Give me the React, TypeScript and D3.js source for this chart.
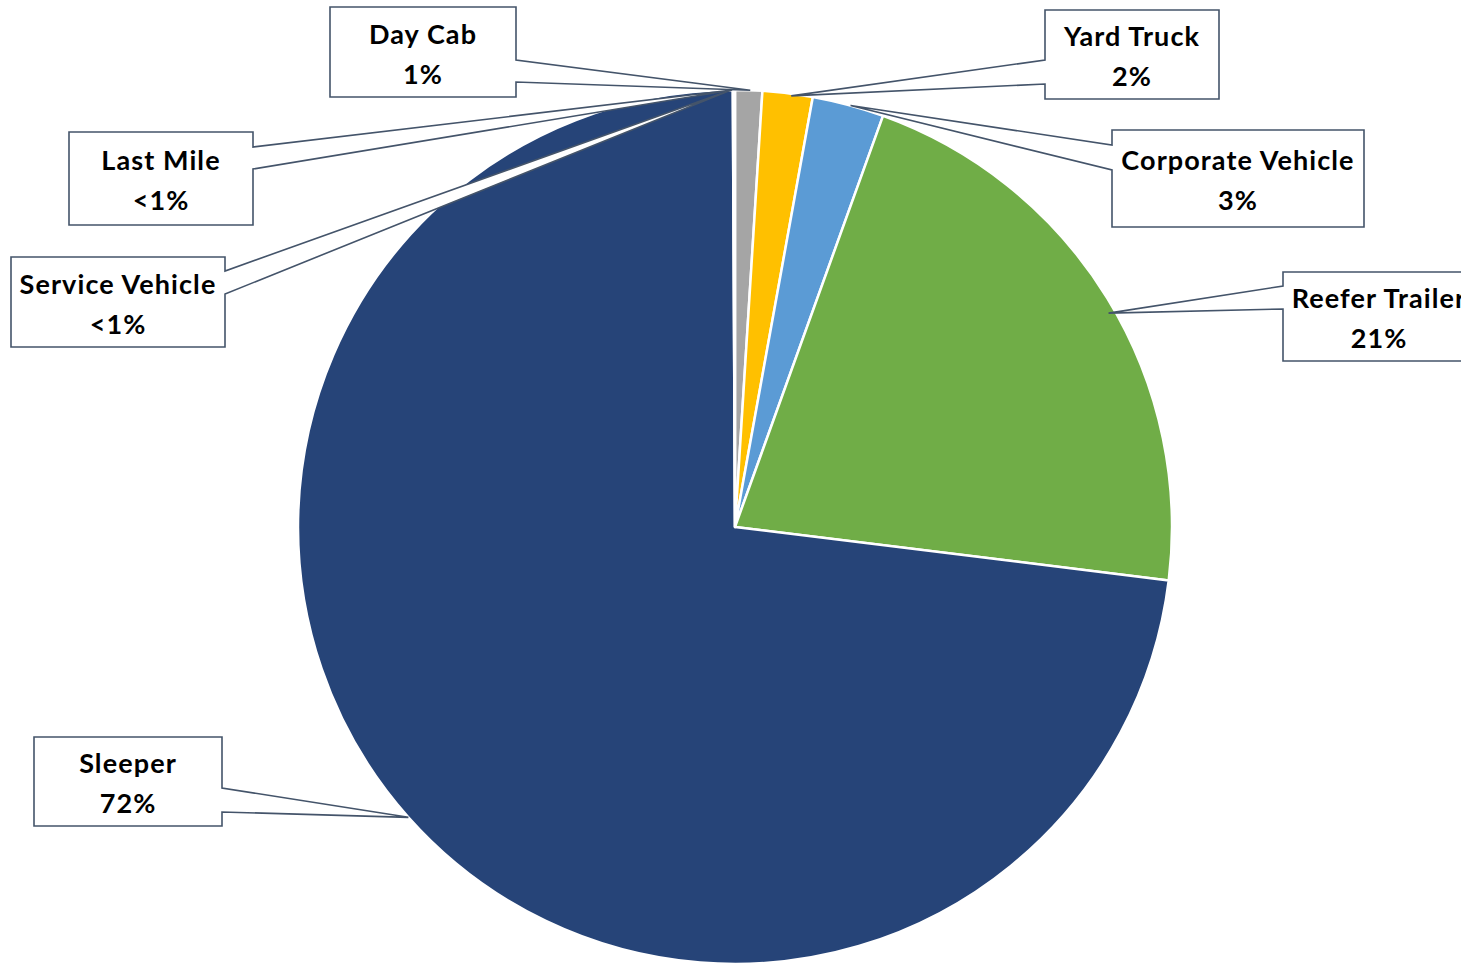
import React, { useRef, useEffect } from 'react';
import * as d3 from 'd3';

// Fleet composition by vehicle type (share of total, %)
const categories = ['Day Cab', 'Yard Truck', 'Corporate Vehicle', 'Reefer Trailer', 'Sleeper', 'Service Vehicle', 'Last Mile'];
const shares = [1.0, 1.85, 2.65, 21.45, 72.97, 0.04, 0.04];
const shareLabels = ['1%', '2%', '3%', '21%', '72%', '<1%', '<1%'];
const colors = ['#A5A5A5', '#FFC000', '#5B9BD5', '#70AD47', '#264478', '#9E480E', '#636363'];

// Callout boxes: [x, y, w, h], pointer side, where the pointer leaves the box, tip tweaks
const callouts: { [key: string]: { box: [number, number, number, number]; side: 'left' | 'right'; base: [number, number]; tipR: number; tipDeg: number } } = {
  'Day Cab': { box: [330, 7, 186, 90], side: 'right', base: [60, 82], tipR: 1.0, tipDeg: 0.2 },
  'Yard Truck': { box: [1045, 10, 174, 89], side: 'left', base: [60, 84], tipR: 0.995, tipDeg: 0.5 },
  'Corporate Vehicle': { box: [1112, 130, 252, 97], side: 'left', base: [145, 170], tipR: 1.0, tipDeg: 0.3 },
  'Reefer Trailer': { box: [1283, 272, 192, 89], side: 'left', base: [286, 309], tipR: 0.985, tipDeg: 1.8 },
  'Sleeper': { box: [34, 737, 188, 89], side: 'right', base: [788, 812], tipR: 1.0, tipDeg: 0 },
  'Service Vehicle': { box: [11, 257, 214, 90], side: 'right', base: [271, 294], tipR: 1.0, tipDeg: -0.3 },
  'Last Mile': { box: [69, 132, 184, 93], side: 'right', base: [147, 169], tipR: 1.0, tipDeg: -0.3 },
};

const W = 1461;
const H = 964;

export default function App() {
  const svgRef = useRef<SVGSVGElement>(null);

  useEffect(() => {
    if (!svgRef.current) return;
    const svg = d3.select(svgRef.current);
    svg.selectAll('*').remove();

    const cx = 735;
    const cy = 527;
    const radius = 437;

    const data = categories.map((c, i) => ({ name: c, value: shares[i], label: shareLabels[i], color: colors[i] }));
    const pie = d3.pie<any>().sort(null).value((d) => d.value);
    const arcs = pie(data);
    const arc = d3.arc<any>().innerRadius(0).outerRadius(radius);

    const g = svg.append('g').attr('transform', `translate(${cx},${cy})`);
    g.selectAll('path.slice')
      .data(arcs)
      .enter()
      .append('path')
      .attr('class', 'slice')
      .attr('d', arc as any)
      .attr('fill', (d: any) => d.data.color)
      .attr('stroke', '#ffffff')
      .attr('stroke-width', 2.5)
      .attr('stroke-linejoin', 'round');

    // Callouts, drawn over the pie with white fill
    const fontFamily = 'Lato, "Open Sans", sans-serif';
    arcs.forEach((a: any) => {
      const c = callouts[a.data.name];
      if (!c) return;
      const mid = (a.startAngle + a.endAngle) / 2 + (c.tipDeg * Math.PI) / 180;
      const tx = cx + Math.sin(mid) * radius * c.tipR;
      const ty = cy - Math.cos(mid) * radius * c.tipR;
      const [x, y, w, h] = c.box;
      const [p1, p2] = c.base;
      let d = '';
      if (c.side === 'right') {
        d = `M${x},${y} H${x + w} V${p1} L${tx},${ty} L${x + w},${p2} V${y + h} H${x} Z`;
      } else {
        d = `M${x},${y} H${x + w} V${y + h} H${x} V${p2} L${tx},${ty} L${x},${p1} Z`;
      }
      svg.append('path')
        .attr('d', d)
        .attr('fill', '#ffffff')
        .attr('stroke', '#44546A')
        .attr('stroke-width', 1.6)
        .attr('stroke-linejoin', 'miter');

      const textX = x + w / 2;
      const textY = y + h / 2;
      const t = svg.append('text')
        .attr('text-anchor', 'middle')
        .attr('font-family', fontFamily)
        .attr('font-weight', 700)
        .attr('font-size', '27px')
        .attr('letter-spacing', '1.1px')
        .attr('fill', '#000000');
      t.append('tspan').attr('x', textX).attr('y', textY - 8.5).text(a.data.name);
      t.append('tspan').attr('x', textX).attr('y', textY + 31.5).text(a.data.label);
    });
  }, []);

  return (
    <div style={{ position: 'absolute', left: 0, top: 0, width: W, height: H, overflow: 'hidden', background: '#ffffff' }}>
      <svg ref={svgRef} width={W} height={H} style={{ display: 'block' }}></svg>
    </div>
  );
}
